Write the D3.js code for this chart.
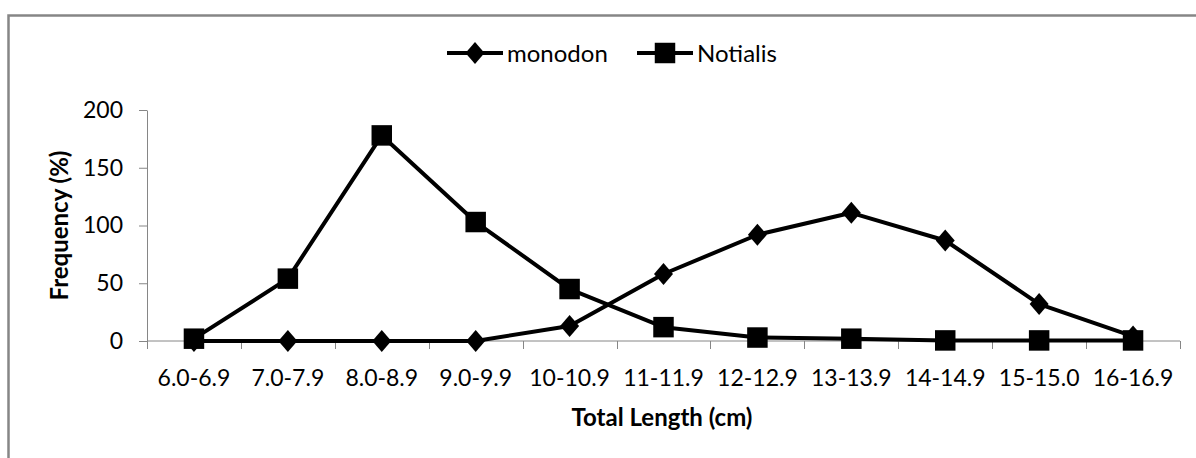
<!DOCTYPE html>
<html>
<head>
<meta charset="utf-8">
<script src="https://d3js.org/d3.v7.min.js"></script>
<style>
  body { margin: 0; background: #fff; }
  text { font-family: Lato, "Open Sans", sans-serif; fill: #000; }
</style>
</head>
<body>
<div id="chart"></div>
<script>
// length classes on the x axis
var categories = ["6.0-6.9", "7.0-7.9", "8.0-8.9", "9.0-9.9", "10-10.9", "11-11.9",
                  "12-12.9", "13-13.9", "14-14.9", "15-15.0", "16-16.9"];
var monodon  = [0, 0, 0, 0, 13, 58, 92, 111, 87, 32, 4];
var notialis = [2, 54, 178, 103, 45, 12, 3, 2, 0.5, 0.5, 0.5];
var yTicks = [0, 50, 100, 150, 200];

var width = 1196,
    height = 458,
    margin = {top: 110, right: 16, bottom: 117, left: 147};

var svg = d3.select("#chart").append("svg")
    .attr("width", width)
    .attr("height", height);

// outer frame (only top and left visible in the crop)
svg.append("path")
    .attr("d", "M8.5," + height + "V15.5H" + width)
    .attr("fill", "none")
    .attr("stroke", "#868686")
    .attr("stroke-width", 2.5);

var x = d3.scaleBand()
    .domain(categories)
    .range([margin.left, width - margin.right]);

var y = d3.scaleLinear()
    .domain([0, 200])
    .range([height - margin.bottom, margin.top]);

// y axis
var yAxis = svg.append("g")
    .attr("transform", "translate(" + margin.left + ",0)")
    .call(d3.axisLeft(y).tickValues(yTicks).tickSize(8).tickSizeOuter(0).tickPadding(16));
yAxis.select(".domain").attr("stroke", "#868686");
yAxis.selectAll(".tick line").attr("stroke", "#868686");
yAxis.selectAll("text").attr("font-size", 23).attr("font-family", "Lato, sans-serif");

// x axis, ticks between categories
var xAxis = svg.append("g")
    .attr("transform", "translate(0," + y(0) + ")");
xAxis.append("line")
    .attr("x1", margin.left).attr("x2", width - margin.right)
    .attr("stroke", "#868686");
var bounds = categories.map(function(c) { return x(c); }).concat([x.range()[1]]);
xAxis.selectAll(".xtick")
    .data(bounds)
    .enter().append("line")
    .attr("class", "xtick")
    .attr("x1", function(d) { return Math.round(d) + 0.5; })
    .attr("x2", function(d) { return Math.round(d) + 0.5; })
    .attr("y1", 0).attr("y2", 8)
    .attr("stroke", "#868686");
xAxis.selectAll(".xlabel")
    .data(categories)
    .enter().append("text")
    .attr("class", "xlabel")
    .attr("x", function(d) { return x(d) + x.bandwidth() / 2; })
    .attr("y", 45)
    .attr("text-anchor", "middle")
    .attr("font-size", 23)
    .text(function(d) { return d; });

// axis titles
svg.append("text")
    .attr("x", 662).attr("y", 426)
    .attr("text-anchor", "middle")
    .attr("font-size", 24)
    .attr("font-weight", "bold")
    .text("Total Length (cm)");

svg.append("text")
    .attr("transform", "translate(68," + ((y(0) + y(200)) / 2) + ") rotate(-90)")
    .attr("text-anchor", "middle")
    .attr("font-size", 24)
    .attr("font-weight", "bold")
    .text("Frequency (%)");

var line = d3.line()
    .x(function(d, i) { return x(categories[i]) + x.bandwidth() / 2; })
    .y(function(d) { return y(d); });

// diamond a bit wider than d3's built-in one
var diamond = {
  draw: function(ctx) {
    ctx.moveTo(0, -11); ctx.lineTo(9.5, 0); ctx.lineTo(0, 11); ctx.lineTo(-9.5, 0); ctx.closePath();
  }
};

var series = [
  {name: "monodon", values: monodon, symbol: diamond, size: 64},
  {name: "Notialis", values: notialis, symbol: d3.symbolSquare, size: 420}
];

series.forEach(function(s) {
  svg.append("path")
      .datum(s.values)
      .attr("d", line)
      .attr("fill", "none")
      .attr("stroke", "#000")
      .attr("stroke-width", 4)
      .attr("stroke-linejoin", "round");

  svg.selectAll(".pt-" + s.name)
    .data(s.values)
    .enter().append("path")
      .attr("class", "pt-" + s.name)
      .attr("transform", function(d, i) {
        return "translate(" + (x(categories[i]) + x.bandwidth() / 2) + "," + y(d) + ")";
      })
      .attr("d", d3.symbol().type(s.symbol).size(s.size))
      .attr("fill", "#000");
});

// legend
var legend = svg.append("g").attr("transform", "translate(0,53)");
var legendX = [447, 637];
series.forEach(function(s, i) {
  var g = legend.append("g").attr("transform", "translate(" + legendX[i] + ",0)");
  g.append("line").attr("x1", 0).attr("x2", 56)
      .attr("stroke", "#000").attr("stroke-width", 4);
  g.append("path")
      .attr("transform", "translate(28,0)")
      .attr("d", d3.symbol().type(s.symbol).size(s.size))
      .attr("fill", "#000");
  g.append("text")
      .attr("x", 60).attr("y", 9)
      .attr("font-size", 24)
      .text(s.name);
});
</script>
</body>
</html>
